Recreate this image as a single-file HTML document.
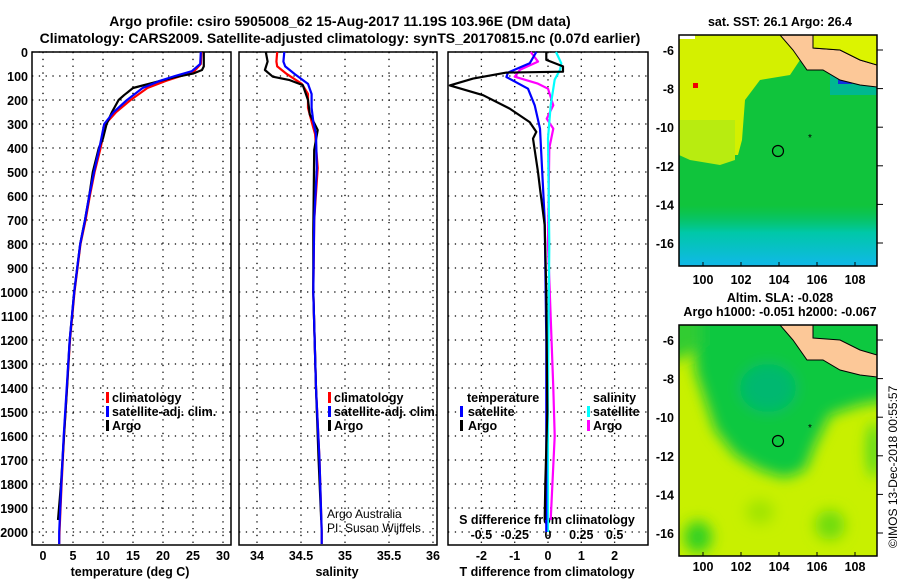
<!DOCTYPE html>
<html><head><meta charset="utf-8"><style>
html,body{margin:0;padding:0;background:#fff;}
svg{display:block;font-family:"Liberation Sans",sans-serif;}
.b{font-weight:bold;font-size:12.5px;fill:#000;}
.t{font-weight:bold;font-size:14px;fill:#000;}
</style></head><body>
<svg id="fig" width="900" height="580" viewBox="0 0 900 580" xmlns="http://www.w3.org/2000/svg">
<defs>
<filter id="blur" x="-20%" y="-20%" width="140%" height="140%"><feGaussianBlur stdDeviation="7"/></filter>
<clipPath id="cm1"><rect x="679" y="35" width="198" height="231"/></clipPath>
<clipPath id="cm2"><rect x="679" y="325" width="198" height="231"/></clipPath>
<linearGradient id="tealg" x1="0" y1="0" x2="0" y2="1"><stop offset="0" stop-color="#00c070" stop-opacity="0"/><stop offset="0.45" stop-color="#00c8a8"/><stop offset="1" stop-color="#10b8e8"/></linearGradient>
</defs>
<text class="t" x="340" y="26" text-anchor="middle">Argo profile: csiro 5905008_62 15-Aug-2017 11.19S 103.96E (DM data)</text>
<text class="t" x="340" y="43" text-anchor="middle">Climatology: CARS2009. Satellite-adjusted climatology: synTS_20170815.nc (0.07d earlier)</text>
<g id="axes"></g>
<g id="series"></g>

<g>
<rect x="106" y="392" width="3" height="11" fill="#f00"/><text class="b" x="112" y="402">climatology</text>
<rect x="106" y="406" width="3" height="11" fill="#00f"/><text class="b" x="112" y="416">satellite-adj. clim.</text>
<rect x="106" y="420" width="3" height="11" fill="#000"/><text class="b" x="112" y="430">Argo</text>
</g>
<g>
<rect x="328" y="392" width="3" height="11" fill="#f00"/><text class="b" x="334" y="402">climatology</text>
<rect x="328" y="406" width="3" height="11" fill="#00f"/><text class="b" x="334" y="416">satellite-adj. clim.</text>
<rect x="328" y="420" width="3" height="11" fill="#000"/><text class="b" x="334" y="430">Argo</text>
</g>
<text x="327" y="518" font-size="12">Argo Australia</text>
<text x="327" y="532" font-size="12">PI: Susan Wijffels</text>
<g>
<text class="b" x="467" y="402">temperature</text>
<rect x="460" y="406" width="3" height="11" fill="#00f"/><text class="b" x="468" y="416">satellite</text>
<rect x="460" y="420" width="3" height="11" fill="#000"/><text class="b" x="468" y="430">Argo</text>
<text class="b" x="593" y="402">salinity</text>
<rect x="587" y="406" width="3" height="11" fill="#0ff"/><text class="b" x="593" y="416">satellite</text>
<rect x="587" y="420" width="3" height="11" fill="#f0f"/><text class="b" x="593" y="430">Argo</text>
</g>

<g clip-path="url(#cm1)">
<rect x="679" y="35" width="198" height="231" fill="#10c43c"/>
<path d="M679,35 L800,35 L800,60 L790,75 L760,80 L745,100 L742,140 L738,155 L679,155 Z" fill="#d4f000"/>
<path d="M679,120 L735,120 L735,160 L720,165 L690,160 L679,155Z" fill="#b8ec10"/>
<rect x="679" y="205" width="198" height="61" fill="url(#tealg)"/>
<rect x="830" y="75" width="47" height="20" fill="#00b890"/>
<rect x="838" y="78" width="14" height="6" fill="#1030e0"/>
<rect x="693" y="83" width="5" height="5" fill="#f00000"/>
<rect x="679" y="35" width="16" height="4" fill="#fff"/>
<path d="M780,35 L813,35 L813,48 L840,50 L860,60 L877,65 L877,87 L860,85 L840,80 L823,70 L807,70 L793,50Z" fill="#fcc898" stroke="#000" stroke-width="1"/>
<path d="M813,35 L877,35 L877,65 L860,60 L840,50 L813,48Z" fill="#dcf400" stroke="#000" stroke-width="1"/>
<circle cx="778" cy="151" r="5.5" fill="none" stroke="#000" stroke-width="1.2"/>
<text x="810" y="141" font-size="10" text-anchor="middle">*</text>
</g>
<rect x="679" y="35" width="198" height="231" fill="none" stroke="#000" stroke-width="1.5"/>
<text class="b" x="780" y="26" text-anchor="middle">sat. SST: 26.1 Argo: 26.4</text>

<g clip-path="url(#cm2)">
<rect x="679" y="325" width="198" height="231" fill="#c8f000"/>
<g filter="url(#blur)">
<path d="M695,310 L890,310 L890,400 L860,405 L830,415 L815,445 L805,470 L785,478 L760,470 L735,455 L715,430 L705,400 L695,370Z" fill="#10c840"/>
<path d="M660,310 L700,310 L700,345 L680,360 L660,360Z" fill="#30cc30"/>
<ellipse cx="768" cy="388" rx="28" ry="24" fill="#00b870"/>
<ellipse cx="698" cy="537" rx="14" ry="16" fill="#30d020"/>
<ellipse cx="830" cy="525" rx="15" ry="15" fill="#70dc10"/>
<ellipse cx="760" cy="512" rx="14" ry="12" fill="#a0e400"/>
<ellipse cx="874" cy="450" rx="7" ry="28" fill="#50d820"/>
</g>
<path d="M780,325 L813,325 L813,338 L840,340 L860,350 L877,355 L877,377 L860,375 L840,370 L823,360 L807,360 L793,340Z" fill="#fcc898" stroke="#000" stroke-width="1"/>
<circle cx="778" cy="441" r="5.5" fill="none" stroke="#000" stroke-width="1.2"/>
<text x="810" y="431" font-size="10" text-anchor="middle">*</text>
</g>
<rect x="679" y="325" width="198" height="231" fill="none" stroke="#000" stroke-width="1.5"/>
<text class="b" x="780" y="302" text-anchor="middle">Altim. SLA: -0.028</text>
<text class="b" x="780" y="316" text-anchor="middle">Argo h1000: -0.051 h2000: -0.067</text>
<g id="mapticks"></g>
<text x="897" y="548" font-size="12" transform="rotate(-90 897 548)">©IMOS 13-Dec-2018 00:55:57</text>
</svg>
<script>
const depthTicks = [0,100,200,300,400,500,600,700,800,900,1000,1100,1200,1300,1400,1500,1600,1700,1800,1900,2000];
const tempTicks = [0,5,10,15,20,25,30];
const salTicks = [34,34.5,35,35.5,36];
const salTickLabels = ["34","34.5","35","35.5","36"];
const tdiffTicks = [-2,-1,0,1,2];
const sdiffTicks = [-0.5,-0.25,0,0.25,0.5];
const sdiffTickLabels = ["-0.5","-0.25","0","0.25","0.5"];

const tClimDepth = [0,50,80,100,120,150,200,250,300,400,500,600,700,800,1000,1200,1400,1600,1800,2000,2050];
const tClimVal   = [26.4,26.3,25.2,23,20.5,17.4,14.6,12.2,10.4,9.6,8.6,7.8,7.1,6.25,5.25,4.5,4.0,3.5,3.1,2.75,2.7];
const tSatVal    = [26.3,26.2,24.8,22,19.5,16.6,14.0,11.8,10.2,9.4,8.5,7.7,7.0,6.2,5.2,4.45,3.95,3.45,3.05,2.7,2.7];
const tArgoDepth = [0,60,75,90,105,120,150,180,200,250,300,360,400,500,600,700,800,1000,1200,1400,1600,1800,1950];
const tArgoVal   = [26.8,26.8,26.5,25,22,19.6,15,13.5,12.6,11.5,10.6,10.0,9.3,8.3,7.7,7.0,6.2,5.2,4.45,4.0,3.5,3.0,2.5];

const sClimDepth = [0,40,60,92,133,175,233,290,342,483,700,1000,1400,1700,2000,2050];
const sClimVal   = [34.23,34.22,34.23,34.34,34.51,34.58,34.58,34.62,34.66,34.69,34.65,34.64,34.67,34.71,34.735,34.735];
const sSatVal    = [34.31,34.30,34.32,34.43,34.58,34.62,34.62,34.64,34.67,34.68,34.65,34.64,34.67,34.71,34.735,34.735];
const sArgoDepth = [0,40,75,103,117,138,200,260,325,408,750,1000,1400,1700,1950];
const sArgoVal   = [34.10,34.12,34.09,34.18,34.37,34.52,34.58,34.60,34.69,34.65,34.64,34.64,34.67,34.70,34.73];

const dTArgoDepth = [0,33,60,82,86,111,139,180,236,292,333,361,500,569,722,1000,1500,1800,1950];
const dTArgoVal   = [-0.05,-0.05,0.45,0.45,-1.25,-2.25,-2.95,-1.95,-1.15,-0.55,-0.35,-0.45,-0.3,-0.24,-0.1,-0.05,-0.02,-0.08,-0.1];
const dTSatDepth  = [0,47,86,104,153,222,319,700,1200,2000];
const dTSatVal    = [-0.35,-0.55,-1.2,-1.25,-0.6,-0.4,-0.24,-0.1,-0.05,-0.05];
const dSArgoDepth = [0,40,74,103,131,153,222,278,319,400,800,1400,1600,1950];
const dSArgoVal   = [-0.13,-0.075,-0.21,-0.25,-0.08,0,0.04,-0.01,0.04,0.01,0,0.04,0.05,0.02];
const dSSatDepth  = [0,47,74,115,222,361,800,1400,2000];
const dSSatVal    = [0.06,0.1,0.09,0.05,0.02,0,0.01,0.0,0.0];

const mapLonTicks = [100,102,104,106,108];
const mapLatTicks = [-6,-8,-10,-12,-14,-16];

const NS="http://www.w3.org/2000/svg";
const yD = d => 52 + d*0.24;
const xT = v => 43 + v*6;
const xS = v => 257 + (v-34)*88;
const xDT = v => 548 + v*33.3;
const xDS = v => 548 + v*133.2;
const lonX = v => 703 + (v-100)*19;
const latY1 = v => 50 + (-6 - v)*19.3;
const latY2 = v => 340 + (-6 - v)*19.3;
const axes=document.getElementById('axes'), ser=document.getElementById('series'), mt=document.getElementById('mapticks');
function mk(tag,attrs,parent){const e=document.createElementNS(NS,tag);for(const k in attrs)e.setAttribute(k,attrs[k]);parent.appendChild(e);return e;}
function txt(s,x,y,anchor,parent,cls){const e=mk('text',{x:x,y:y,'text-anchor':anchor,class:cls||'b'},parent);e.textContent=s;return e;}

const panels=[{x0:32,x1:231,name:'temperature'},{x0:239,x1:437,name:'salinity'},{x0:448,x1:648,name:'difference'}];
const Y0=52,Y1=545;
panels.forEach(p=>{
  const g=mk('g',{},axes);
  
  
  depthTicks.forEach(d=>{
    const l=mk('line',{x1:p.x0,x2:p.x1,y1:yD(d),y2:yD(d),stroke:'#000','stroke-width':1.3,'stroke-dasharray':'1.3 5.5'},g);
    
    
  });
  const r=mk('rect',{x:p.x0,y:Y0,width:p.x1-p.x0,height:Y1-Y0,fill:'none',stroke:'#000','stroke-width':1.5},g);
  
  
});
function vgrid(xs,xf){xs.forEach(v=>{const l=mk('line',{x1:xf(v),x2:xf(v),y1:Y0,y2:Y1,stroke:'#000','stroke-width':1.3,'stroke-dasharray':'1.3 5.5'},axes);
  
  });}
vgrid(tempTicks,xT); vgrid(salTicks,xS); vgrid(tdiffTicks,xDT);
depthTicks.forEach(d=>{const t=txt(String(d),28,yD(d)+5,'end',axes);
  
  });
tempTicks.forEach(v=>{const t=txt(String(v),xT(v),560,'middle',axes);
  
  });
salTicks.forEach((v,i)=>{const t=txt(salTickLabels[i],xS(v),560,'middle',axes);
  
  });
tdiffTicks.forEach(v=>{const t=txt(String(v),xDT(v),560,'middle',axes);
  
  });
sdiffTicks.forEach((v,i)=>{const t=txt(sdiffTickLabels[i],xDS(v),539,'middle',axes);
  
  });
let t;
t=txt('temperature (deg C)',130,576,'middle',axes);  
t=txt('salinity',337,576,'middle',axes);  
t=txt('T difference from climatology',547,576,'middle',axes);  
t=txt('S difference from climatology',547,524,'middle',axes);  

function line(depths,vals,xf,color,name,w){
  const d=depths.map((dd,i)=>(i?'L':'M')+xf(vals[i]).toFixed(1)+','+yD(dd).toFixed(1)).join(' ');
  const p=mk('path',{d:d,fill:'none',stroke:color,'stroke-width':w||2.2,'stroke-linejoin':'round'},ser);
  
  
}
line(tClimDepth,tClimVal,xT,'#f00','temp-climatology-line');
line(tArgoDepth,tArgoVal,xT,'#000','temp-argo-line');
line(tClimDepth,tSatVal,xT,'#00f','temp-satellite-line');
line(sClimDepth,sClimVal,xS,'#f00','sal-climatology-line');
line(sArgoDepth,sArgoVal,xS,'#000','sal-argo-line');
line(sClimDepth,sSatVal,xS,'#00f','sal-satellite-line');
line(dSArgoDepth,dSArgoVal,xDS,'#f0f','sdiff-argo-line');
line(dSSatDepth,dSSatVal,xDS,'#0ff','sdiff-satellite-line');
line(dTSatDepth,dTSatVal,xDT,'#00f','tdiff-satellite-line');
line(dTArgoDepth,dTArgoVal,xDT,'#000','tdiff-argo-line');

[[latY1,35,266,284],[latY2,325,556,571]].forEach(([ly,top,bot,lab])=>{
  mapLonTicks.forEach(v=>{const tt=txt(String(v),lonX(v),lab,'middle',mt);
    
    
    mk('line',{x1:lonX(v),x2:lonX(v),y1:bot,y2:bot-4,stroke:'#000'},mt);});
  mapLatTicks.forEach(v=>{const tt=txt(String(v),674,ly(v)+5,'end',mt);
    
    
    mk('line',{x1:877,x2:883,y1:ly(v),y2:ly(v),stroke:'#000'},mt);});
});
</script>
</body></html>
